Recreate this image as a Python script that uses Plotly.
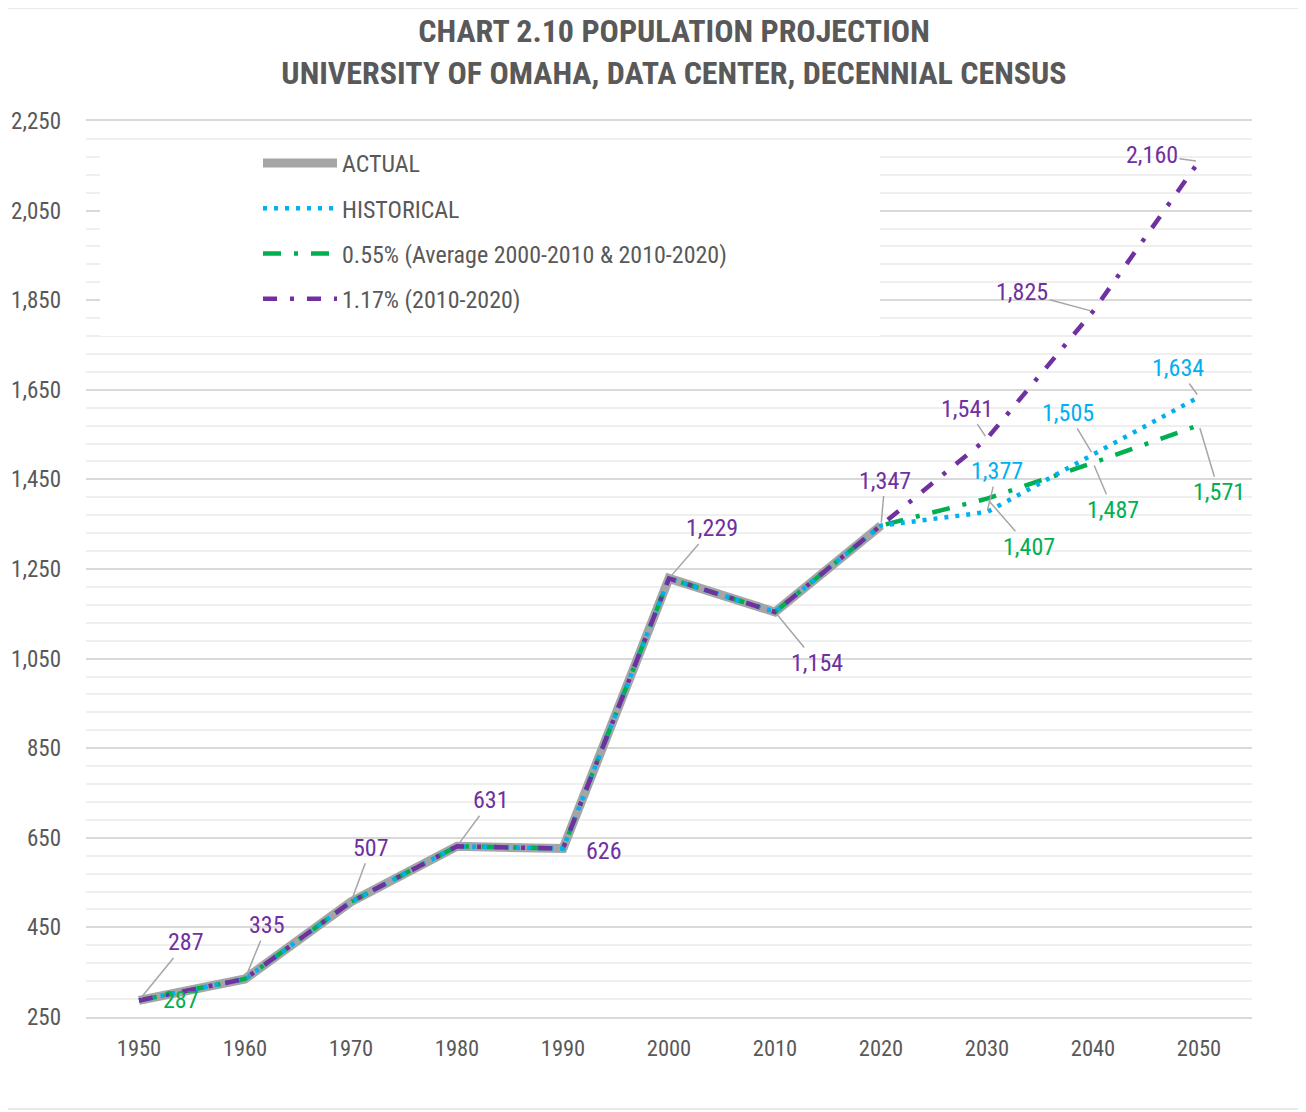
import plotly.graph_objects as go

years = ["1950", "1960", "1970", "1980", "1990", "2000", "2010", "2020", "2030", "2040", "2050"]
actual = [287, 335, 507, 631, 626, 1229, 1154, 1347, None, None, None]
historical = [287, 335, 507, 631, 626, 1229, 1154, 1347, 1377, 1505, 1634]
avg055 = [287, 335, 507, 631, 626, 1229, 1154, 1347, 1407, 1487, 1571]
rate117 = [287, 335, 507, 631, 626, 1229, 1154, 1347, 1541, 1825, 2160]

series_names = ["ACTUAL", "HISTORICAL", "0.55% (Average 2000-2010 & 2010-2020)", "1.17% (2010-2020)"]

GRAY = "#A5A5A5"
BLUE = "#00B0F0"
GREEN = "#00B050"
PURPLE = "#7030A0"
TXT = "#595959"
FONT = "Roboto Condensed, Roboto, sans-serif"

fig = go.Figure()
fig.add_trace(go.Scatter(x=years, y=actual, name=series_names[0], mode="lines",
                         line=dict(color=GRAY, width=9), legendgroup="a", legendrank=1))
fig.add_trace(go.Scatter(x=years, y=avg055, name=series_names[2], mode="lines",
                         line=dict(color=GREEN, width=4.5, dash="18px,13px,4px,13px"), legendgroup="c",
                         legendrank=3))
fig.add_trace(go.Scatter(x=years, y=historical, name=series_names[1], mode="lines",
                         line=dict(color=BLUE, width=4.5, dash="4px,7px"), legendgroup="b",
                         legendrank=2))
fig.add_trace(go.Scatter(x=years, y=rate117, name=series_names[3], mode="lines",
                         line=dict(color=PURPLE, width=4.5, dash="14px,13px,4px,13px"), legendgroup="d",
                         legendrank=4))


def fmt(v):
    return f"{v:,}"

# label offsets (pixels): (series values, index, color, ax, ay, leader)
label_specs = [
    (rate117, 0, PURPLE, 47, -58, True),
    (avg055, 0, GREEN, 42, 0, False),
    (rate117, 1, PURPLE, 22, -54, True),
    (rate117, 2, PURPLE, 20, -54, True),
    (rate117, 3, PURPLE, 34, -46, True),
    (rate117, 4, PURPLE, 41, 2, False),
    (rate117, 5, PURPLE, 43, -50, True),
    (rate117, 6, PURPLE, 42, 51, True),
    (rate117, 7, PURPLE, 4, -45, True),
    (rate117, 8, PURPLE, -20, -30, True),
    (rate117, 9, PURPLE, -71, -19, True),
    (rate117, 10, PURPLE, -47, -6, True),
    (historical, 8, BLUE, 10, -41, True),
    (historical, 9, BLUE, -25, -42, True),
    (historical, 10, BLUE, -21, -29, True),
    (avg055, 8, GREEN, 42, 48, True),
    (avg055, 9, GREEN, 20, 47, True),
    (avg055, 10, GREEN, 20, 67, True),
]
for vals, i, col, ax, ay, leader in label_specs:
    fig.add_annotation(x=i, y=vals[i], xref="x", yref="y", text=fmt(vals[i]),
                       showarrow=leader, arrowhead=0, arrowwidth=1.5, arrowcolor="#A6A6A6",
                       ax=ax, ay=ay, standoff=3,
                       xshift=0 if leader else ax, yshift=0 if leader else -ay,
                       font=dict(family=FONT, size=24, color=col))

# white legend panel
fig.add_shape(type="rect", xref="paper", yref="paper",
              x0=(100 - 86) / 1166, x1=(880 - 86) / 1166,
              y0=1 - (336 - 121) / 896, y1=1 - (141 - 121) / 896,
              fillcolor="white", line=dict(width=0), layer="above")
# chart frame
fig.add_shape(type="rect", xref="paper", yref="paper",
              x0=(6 - 86) / 1166, x1=(1303 - 86) / 1166,
              y0=-(1109 - 1017) / 896, y1=1 + (121 - 8) / 896,
              fillcolor="rgba(0,0,0,0)", line=dict(color="#E3E3E3", width=1.5), layer="below")

fig.update_layout(
    width=1306, height=1112,
    margin=dict(l=78, r=62, t=113, b=103),
    paper_bgcolor="white", plot_bgcolor="white",
    title=dict(text="CHART 2.10 POPULATION PROJECTION<br>UNIVERSITY OF OMAHA, DATA CENTER, DECENNIAL CENSUS",
               x=666 / 1306, xanchor="center", y=1 - 34 / 1112, yanchor="middle",
               font=dict(family=FONT, size=32, color=TXT, weight="bold")),
    font=dict(family=FONT, color=TXT),
    showlegend=True,
    legend=dict(x=(258 - 86) / 1166, y=1 - (141 - 121) / 896, xanchor="left", yanchor="top",
                bgcolor="rgba(0,0,0,0)", font=dict(family=FONT, size=24, color=TXT),
                tracegroupgap=11, traceorder="grouped", itemwidth=74),
    hovermode=False,
)
fig.update_xaxes(type="category", range=[-0.5, 10.5], showgrid=False, showline=True, mirror=True,
                 linecolor="#D9D9D9", linewidth=1.5, ticks="", automargin=False,
                 tickfont=dict(family=FONT, size=22.5, color=TXT), ticklabelstandoff=10)
fig.update_yaxes(range=[250, 2250], tick0=250, dtick=200, tickformat=",", showgrid=True,
                 gridcolor="#D9D9D9", gridwidth=1.5, zeroline=False, showline=False, automargin=False,
                 tickfont=dict(family=FONT, size=23, color=TXT), ticklabelstandoff=24,
                 minor=dict(tick0=250, dtick=40, showgrid=True, gridcolor="#EFEFEF", gridwidth=1.5))

fig.write_html("out.html")
